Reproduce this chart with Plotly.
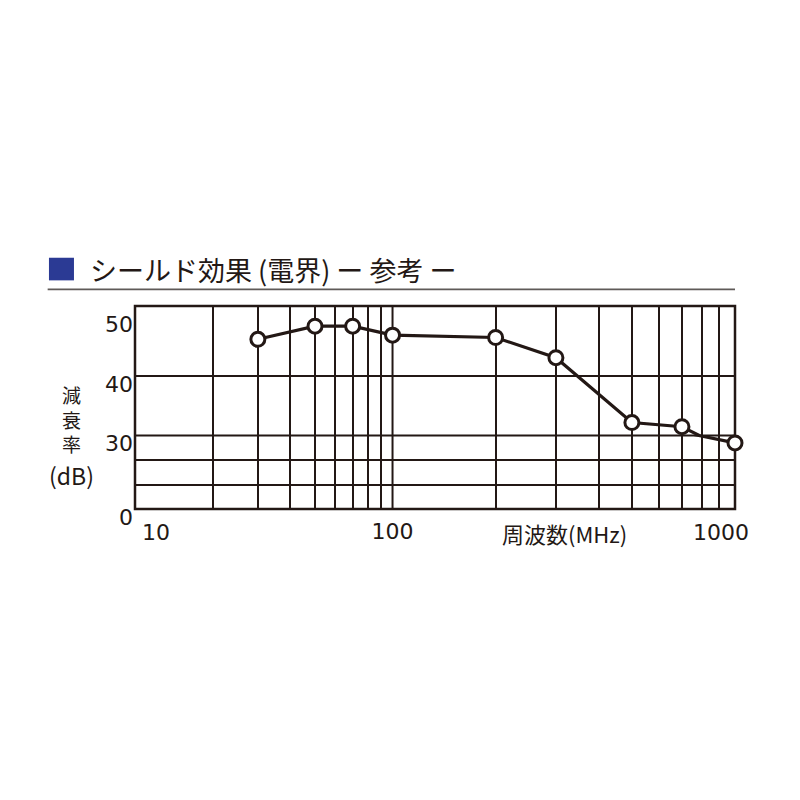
import plotly.graph_objects as go

# ---- data ----
freq_mhz = [30, 50, 70, 100, 200, 300, 500, 700, 1000]
atten_db = [46.2, 48.4, 48.4, 46.9, 46.5, 43.1, 32.2, 31.5, 27.0]

grid_low_decade = [20, 30, 40, 50, 60, 70, 80, 90]
grid_high_decade = [200, 300, 400, 500, 600, 700, 800, 900]
grid_upper_db = [40]
grid_lower_db = [10, 20]
upper_tick_db = [30, 40, 50]
lower_tick_db = [0]
break_db = 30
break_mhz = 100

title_text = "シールド効果 (電界) ー 参考 ー"
y_title = "減<br>衰<br>率"
y_unit = "(dB)"
x_title = "周波数(MHz)"

# ---- styling / layout constants ----
DARK = "#231815"
BLUE = "#2b3a94"
W, H = 800, 800
OFF = 8                                   # page body margin
PL, PR, PT, PB = 135.3, 735.0, 305.7, 509.3   # plot area (reference pixels)
X_SPLIT = (392.7 - PL) / (PR - PL)        # 100 MHz boundary (decade break)
Y_SPLIT = (PB - 435.7) / (PB - PT)        # 30 dB boundary (scale break)

def px_x(px):
    return (px - PL) / (PR - PL)

def px_y(py):
    return (PB - py) / (PB - PT)

pts = list(zip(freq_mhz, atten_db))
left_pts = [(f, a) for f, a in pts if f <= break_mhz]
right_pts = [(f, a) for f, a in pts if f >= break_mhz]

fig = go.Figure()
line_style = dict(color=DARK, width=3.2)
marker_style = dict(size=14, color="white", line=dict(color=DARK, width=3))

for xa, col in (("x", left_pts), ("x2", right_pts)):
    for ya in ("y", "y2"):
        fig.add_trace(go.Scatter(x=[p[0] for p in col], y=[p[1] for p in col],
                                 mode="lines", line=line_style, xaxis=xa, yaxis=ya,
                                 hoverinfo="skip", showlegend=False))

for xa, fsel in (("x", lambda f: f < break_mhz), ("x2", lambda f: f >= break_mhz)):
    for ya, asel in (("y", lambda a: a < break_db), ("y2", lambda a: a >= break_db)):
        sel = [(f, a) for f, a in pts if fsel(f) and asel(a)]
        if sel:
            fig.add_trace(go.Scatter(x=[p[0] for p in sel], y=[p[1] for p in sel],
                                     mode="markers", marker=marker_style,
                                     xaxis=xa, yaxis=ya, cliponaxis=False,
                                     showlegend=False))

def minor_grid(vals):
    return dict(tickmode="array", tickvals=vals, showgrid=True,
                gridcolor=DARK, gridwidth=2, ticks="")

axis_common = dict(showline=False, ticks="", zeroline=False, showgrid=False,
                   layer="below traces", fixedrange=True)
num_font = dict(family="DejaVu Sans", size=22, color=DARK)

fig.update_layout(
    width=W, height=H,
    margin=dict(l=PL - OFF, r=W - (PR - OFF), t=PT - OFF, b=H - (PB - OFF), pad=0),
    paper_bgcolor="white", plot_bgcolor="white",
    showlegend=False,
    xaxis=dict(type="log", domain=[0, X_SPLIT], range=[1, 2], anchor="y",
               tickmode="array", tickvals=[], minor=minor_grid(grid_low_decade),
               **axis_common),
    xaxis2=dict(type="log", domain=[X_SPLIT, 1], range=[2, 3], anchor="y",
                tickmode="array", tickvals=[break_mhz], ticktext=[str(break_mhz)],
                tickfont=num_font, ticklabelstandoff=7,
                minor=minor_grid(grid_high_decade), **axis_common),
    yaxis=dict(domain=[0, Y_SPLIT], range=[0, break_db], anchor="x",
               tickmode="array", tickvals=lower_tick_db,
               ticktext=[str(v) for v in lower_tick_db],
               ticklabelshift=8, ticklabelstandoff=1, tickfont=num_font,
               minor=minor_grid(grid_lower_db), **axis_common),
    yaxis2=dict(domain=[Y_SPLIT, 1], range=[break_db, 51.8], anchor="x",
                tickmode="array", tickvals=upper_tick_db,
                ticktext=[str(v) for v in upper_tick_db],
                ticklabelshift=8, ticklabelstandoff=1, tickfont=num_font,
                minor=minor_grid(grid_upper_db), **axis_common),
)

anns = [
    dict(x=px_x(88), y=px_y(269.5), text=title_text, xanchor="left",
         font=dict(family="Noto Sans CJK JP", size=27, color=DARK)),
    dict(x=px_x(71.7), y=px_y(419.5), text=y_title, xanchor="center",
         font=dict(family="Noto Sans CJK JP", size=19, color=DARK)),
    dict(x=px_x(71.7), y=px_y(475), text=y_unit, xanchor="center",
         font=dict(family="Noto Sans CJK JP", size=23, color=DARK)),
    dict(x=px_x(156.5), y=px_y(533), text="10", xanchor="center", font=num_font),
    dict(x=px_x(721), y=px_y(533), text="1000", xanchor="center", font=num_font),
    dict(x=px_x(565), y=px_y(533), text=x_title, xanchor="center",
         font=dict(family="Noto Sans CJK JP", size=22, color=DARK)),
]
for a in anns:
    a.update(xref="paper", yref="paper", showarrow=False, yanchor="middle")
fig.update_layout(annotations=anns)

# plot frame and the two scale-break grid lines
fig.add_shape(type="rect", xref="paper", yref="paper", x0=0, x1=1, y0=0, y1=1,
              line=dict(color=DARK, width=2.5), fillcolor="rgba(0,0,0,0)", layer="below")
fig.add_shape(type="line", xref="paper", yref="paper", x0=X_SPLIT, x1=X_SPLIT, y0=0, y1=1,
              line=dict(color=DARK, width=2), layer="below")
fig.add_shape(type="line", xref="paper", yref="paper", x0=0, x1=1, y0=Y_SPLIT, y1=Y_SPLIT,
              line=dict(color=DARK, width=2), layer="below")
# title decorations: blue square and rule
fig.add_shape(type="rect", xref="paper", yref="paper",
              x0=px_x(49.3), x1=px_x(74.3), y0=px_y(280), y1=px_y(257.3),
              fillcolor=BLUE, line=dict(width=0))
fig.add_shape(type="line", xref="paper", yref="paper",
              x0=px_x(48), x1=px_x(735), y0=px_y(289), y1=px_y(289),
              line=dict(color="#5f5a58", width=1.6))

fig.write_html("out.html")
